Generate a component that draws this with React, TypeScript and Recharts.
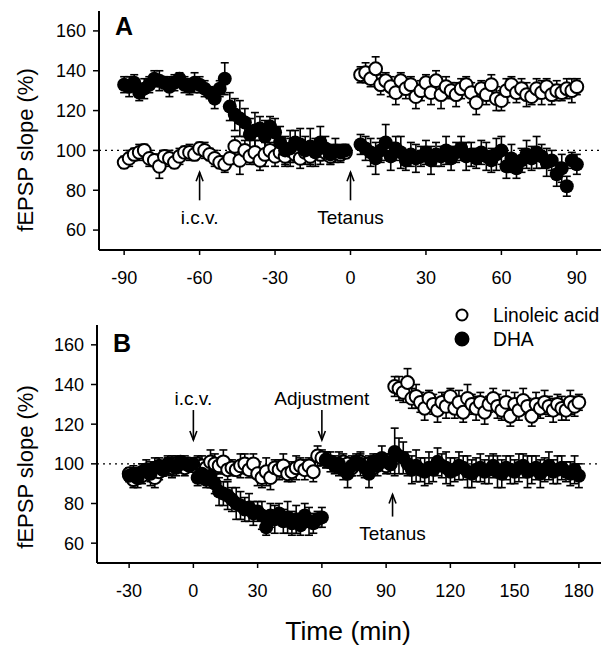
import { ScatterChart, Scatter, XAxis, YAxis, ErrorBar, ReferenceLine, ReferenceDot, Legend } from 'recharts';

const FONT = '"Liberation Sans", Arial, Helvetica, sans-serif';

// ---- panel A: times (min), values (% of baseline), SEM
const timeA = [
  -90, -88, -86, -84, -82, -80, -78, -76, -74, -72, -70, -68, -66, -64, -62, -60, -58, -56, -54, -52, -50, -48, -46,
  -44, -42, -40, -38, -36, -34, -32, -30, -28, -26, -24, -22, -20, -18, -16, -14, -12, -10, -8, -6, -4, -2,
  4, 6, 8, 10, 12, 14, 16, 18, 20, 22, 24, 26, 28, 30, 32, 34, 36, 38, 40, 42, 44, 46, 48, 50, 52, 54, 56, 58, 60,
  62, 64, 66, 68, 70, 72, 74, 76, 78, 80, 82, 84, 86, 88, 90,
];
const linoleicA = [
  94, 96, 98, 99, 100, 96, 95, 92, 97, 96, 94, 97, 99, 99, 98, 101, 100, 98, 96, 94, 93, 96, 102, 95, 100, 97, 99, 95,
  98, 100, 97, 99, 97, 100, 98, 96, 99, 97, 100, 98, 99, 97, 99, 98, 99,
  138, 139, 136, 141, 133, 135, 132, 129, 135, 131, 133, 127, 130, 134, 129, 135, 128, 132, 130, 128, 131, 133, 129,
  124, 131, 128, 133, 126, 125, 130, 133, 129, 131, 128, 127, 131, 129, 132, 128, 130, 129, 131, 130, 132,
];
const linoleicAErr = [
  3, 4, 3, 4, 3, 4, 3, 6, 3, 4, 3, 4, 3, 4, 3, 3, 4, 3, 4, 3, 4, 3, 5, 7, 5, 4, 6, 5, 6, 4, 5, 4, 5, 6, 4, 5, 4, 5, 4,
  5, 4, 4, 3, 4, 3,
  4, 5, 4, 6, 5, 4, 5, 6, 4, 5, 4, 6, 5, 4, 6, 5, 7, 5, 4, 6, 5, 4, 5, 6, 4, 5, 5, 6, 5, 6, 4, 5, 5, 6, 4, 5, 6, 4, 5,
  5, 4, 5, 6, 4,
];
const dhaA = [
  133, 132, 134, 129, 131, 133, 136, 135, 134, 132, 134, 136, 133, 132, 134, 133, 131, 129, 126, 131, 136, 122, 118,
  116, 114, 108, 110, 111, 107, 112, 109, 104, 100, 101, 104, 103, 100, 102, 99, 104, 101, 98, 100, 99, 100,
  103, 101, 99, 96, 100, 104, 97, 101, 99, 95, 98, 96, 97, 99, 95, 98, 97, 100, 96, 99, 101, 97, 98, 96, 99, 97, 95,
  98, 100, 92, 96, 91, 95, 98, 96, 99, 97, 94, 95, 88, 91, 82, 95, 93,
];
const dhaAErr = [
  4, 5, 4, 4, 5, 4, 4, 5, 3, 5, 4, 3, 4, 4, 5, 4, 4, 3, 5, 4, 8, 7, 8, 9, 7, 8, 9, 6, 8, 5, 7, 8, 7, 9, 6, 8, 7, 9, 7,
  8, 6, 5, 6, 4, 3,
  5, 6, 7, 8, 6, 9, 7, 6, 8, 5, 6, 7, 5, 6, 7, 6, 5, 7, 6, 5, 6, 7, 6, 5, 6, 7, 6, 8, 7, 6, 7, 5, 6, 7, 6, 8, 6, 7, 5,
  6, 7, 5, 4, 5,
];

// ---- panel B
const timeB = [
  -30, -28, -26, -24, -22, -20, -18, -16, -14, -12, -10, -8, -6, -4, -2, 0, 2, 4, 6, 8, 10, 12, 14, 16, 18, 20, 22,
  24, 26, 28, 30, 32, 34, 36, 38, 40, 42, 44, 46, 48, 50, 52, 54, 56, 58, 60,
  62, 64, 66, 68, 70, 72, 74, 76, 78, 80, 82, 84, 86, 88, 90, 92,
  94, 96, 98, 100, 102, 104, 106, 108, 110, 112, 114, 116, 118, 120, 122, 124, 126, 128, 130, 132, 134, 136, 138,
  140, 142, 144, 146, 148, 150, 152, 154, 156, 158, 160, 162, 164, 166, 168, 170, 172, 174, 176, 178, 180,
];
const linoleicB = [
  95, 92, 93, 94, 97, 95, 93, 96, 97, 99, 98, 100, 99, 98, 100, 99, 100, 99, 98, 101, 100, 99, 101, 97, 98, 97, 99,
  100, 97, 100, 95, 93, 96, 93, 98, 97, 99, 95, 96, 98, 99, 97, 99, 96, 104, 103,
  102, 101, 100, 99, 101, 100, 98, 100, 101, 99, 100, 98, 101, 100, 99, 100,
  139, 138, 136, 141, 133, 134, 131, 128, 133, 130, 127, 131, 129, 134, 128, 131, 126, 133, 130, 128, 131, 126, 130,
  133, 129, 127, 131, 124, 130, 127, 132, 129, 124, 130, 128, 131, 129, 127, 130, 128, 127, 131, 129, 131,
];
const linoleicBErr = [
  3, 4, 5, 4, 3, 6, 5, 4, 3, 4, 5, 4, 3, 4, 3, 3, 4, 5, 4, 6, 5, 4, 6, 5, 4, 3, 6, 5, 4, 5, 6, 5, 7, 6, 4, 5, 6, 4, 5,
  6, 4, 5, 4, 5, 5, 4,
  4, 3, 4, 3, 4, 3, 4, 3, 4, 3, 4, 3, 4, 3, 4, 3,
  5, 6, 5, 7, 5, 6, 5, 6, 4, 5, 6, 5, 6, 4, 5, 6, 5, 7, 5, 6, 5, 6, 4, 5, 6, 5, 6, 5, 6, 5, 6, 4, 5, 6, 5, 6, 5, 6, 5,
  6, 5, 6, 5, 4,
];
const dhaB = [
  94, 95, 93, 96, 97, 95, 98, 99, 97, 100, 99, 98, 101, 100, 99, 100, 93, 95, 92, 94, 90, 86, 85, 84, 82, 80, 79, 77,
  78, 75, 76, 74, 68, 74, 72, 75, 71, 73, 70, 72, 69, 74, 71, 70, 72, 73,
  102, 101, 99, 100, 97, 95, 99, 101, 100, 98, 95, 101, 99, 103, 101, 100,
  106, 104, 103, 100, 97, 99, 97, 96, 98, 97, 101, 99, 98, 96, 97, 99, 98, 96, 95, 97, 98, 96, 97, 99, 96, 95, 98, 97,
  96, 98, 99, 96, 97, 98, 95, 97, 99, 96, 97, 98, 96, 95, 97, 94,
];
const dhaBErr = [
  3, 4, 3, 4, 5, 4, 5, 4, 3, 4, 5, 4, 3, 4, 3, 3, 4, 5, 4, 6, 5, 7, 6, 7, 6, 8, 7, 6, 7, 6, 5, 7, 4, 6, 7, 5, 6, 8, 6,
  7, 5, 6, 7, 5, 4, 5,
  4, 5, 4, 6, 5, 7, 5, 4, 6, 5, 7, 4, 5, 6, 4, 5,
  12, 9, 8, 6, 7, 8, 6, 7, 8, 6, 7, 6, 8, 7, 6, 7, 6, 8, 7, 6, 7, 6, 7, 6, 8, 7, 6, 7, 6, 7, 6, 8, 7, 6, 7, 6, 7, 6, 7,
  6, 5, 6, 7, 6,
];

const ticksY = [60, 80, 100, 120, 140, 160];
const ticksXA = [-90, -60, -30, 0, 30, 60, 90];
const ticksXB = [-30, 0, 30, 60, 90, 120, 150, 180];

const notesA = [
  { label: 'i.c.v.', t: -60, v: 89 },
  { label: 'Tetanus', t: 0, v: 89 },
];
const notesBDown = [
  { label: 'i.c.v.', t: 0, v: 112 },
  { label: 'Adjustment', t: 60, v: 112 },
];
const notesBUp = [{ label: 'Tetanus', t: 93, v: 84.5 }];

const rows = (t: number[], v: number[], e: number[]) => t.map((x, i) => ({ t: x, v: v[i], e: e[i] }));

const openDot = (p: any) => <circle cx={p.cx} cy={p.cy} r={6.4} fill="#fff" stroke="#000" strokeWidth={2} />;
const fillDot = (p: any) => <circle cx={p.cx} cy={p.cy} r={7} fill="#000" />;

// arrow + caption anchored on the arrow tip
const arrow = (label: string, up: boolean, len: number, gap: number) => (p: any) => {
  const { cx, cy } = p;
  const s = up ? 1 : -1;
  return (
    <g>
      <line x1={cx} y1={cy} x2={cx} y2={cy + s * len} stroke="#000" strokeWidth={1.6} />
      <polyline
        points={`${cx - 3.5},${cy + s * 9} ${cx},${cy} ${cx + 3.5},${cy + s * 9}`}
        fill="none"
        stroke="#000"
        strokeWidth={1.6}
      />
      <text x={cx} y={cy + s * gap} textAnchor="middle" fontSize={19} fill="#000">
        {label}
      </text>
    </g>
  );
};

const yTitle = (dy: number) => (props: any) => {
  const vb = props.viewBox || { y: 0, height: 0 };
  const cy = vb.y + vb.height / 2 + dy;
  return (
    <text x={25} y={cy} transform={`rotate(-90 25 ${cy})`} textAnchor="middle" dominantBaseline="central" fontSize={22} fill="#000">
      fEPSP slope (%)
    </text>
  );
};

const xTitle = () => (
  <text x={348} y={340} textAnchor="middle" fontSize={26.5} fill="#000">
    Time (min)
  </text>
);

const legendContent = (props: any) => (
  <svg width={160} height={50}>
    {(props.payload || []).map((p: any) => {
      const filled = p.value === 'DHA';
      const y = filled ? 39 : 15;
      return (
        <g key={p.value}>
          <circle cx={12} cy={y} r={filled ? 6.5 : 5.5} fill={filled ? '#000' : '#fff'} stroke="#000" strokeWidth={2} />
          <text x={43} y={y + 6.5} fontSize={19.3} fill="#000">
            {p.value}
          </text>
        </g>
      );
    })}
  </svg>
);

const axisLine = { stroke: '#000', strokeWidth: 2 };
const tickLine = { stroke: '#000', strokeWidth: 1.5 };
const tick = { fill: '#000', fontSize: 18 };

export default function App() {
  const linA = rows(timeA, linoleicA, linoleicAErr);
  const dA = rows(timeA, dhaA, dhaAErr);
  const linB = rows(timeB, linoleicB, linoleicBErr);
  const dB = rows(timeB, dhaB, dhaBErr);

  return (
    <div style={{ position: 'absolute', left: 0, top: 0, width: 601, height: 650, overflow: 'hidden', background: '#fff', fontFamily: FONT }}>
      <div style={{ position: 'absolute', left: 0, top: 0 }}>
        <ScatterChart width={620} height={300} margin={{ top: 11, right: 18, bottom: 0, left: 0 }}>
          <XAxis type="number" dataKey="t" domain={[-100, 100]} ticks={ticksXA} allowDataOverflow height={50}
            tick={tick} tickSize={5} tickMargin={16} axisLine={axisLine} tickLine={tickLine} />
          <YAxis type="number" dataKey="v" domain={[50, 170]} ticks={ticksY} allowDataOverflow width={99}
            tick={tick} tickSize={6} tickMargin={7} axisLine={axisLine} tickLine={tickLine} label={yTitle(19.5)} />
          <ReferenceLine y={100} stroke="#000" strokeWidth={1.3} strokeDasharray="2 4" />
          <Scatter name="Linoleic acid" data={linA} shape={openDot} isAnimationActive={false}>
            <ErrorBar dataKey="e" direction="y" width={4} stroke="#000" strokeWidth={1.6} />
          </Scatter>
          <Scatter name="DHA" data={dA} shape={fillDot} isAnimationActive={false}>
            <ErrorBar dataKey="e" direction="y" width={4} stroke="#000" strokeWidth={1.6} />
          </Scatter>
          {notesA.map((n) => (
            <ReferenceDot key={n.label} x={n.t} y={n.v} shape={arrow(n.label, true, 28, 52)} />
          ))}
        </ScatterChart>
      </div>
      <div style={{ position: 'absolute', left: 0, top: 300 }}>
        <ScatterChart width={620} height={350} margin={{ top: 25, right: 9, bottom: 37, left: 0 }}>
          <XAxis type="number" dataKey="t" domain={[-45, 195]} ticks={ticksXB} allowDataOverflow height={50}
            tick={tick} tickSize={5} tickMargin={16} axisLine={axisLine} tickLine={tickLine} label={xTitle} />
          <YAxis type="number" dataKey="v" domain={[50, 170]} ticks={ticksY} allowDataOverflow width={97}
            tick={tick} tickSize={6} tickMargin={7} axisLine={axisLine} tickLine={tickLine} label={yTitle(23)} />
          <ReferenceLine y={100} stroke="#000" strokeWidth={1.3} strokeDasharray="2 4" />
          <Scatter name="Linoleic acid" data={linB} shape={openDot} isAnimationActive={false}>
            <ErrorBar dataKey="e" direction="y" width={4} stroke="#000" strokeWidth={1.6} />
          </Scatter>
          <Scatter name="DHA" data={dB} shape={fillDot} isAnimationActive={false}>
            <ErrorBar dataKey="e" direction="y" width={4} stroke="#000" strokeWidth={1.6} />
          </Scatter>
          {notesBDown.map((n) => (
            <ReferenceDot key={n.label} x={n.t} y={n.v} shape={arrow(n.label, false, 30, 35)} />
          ))}
          {notesBUp.map((n) => (
            <ReferenceDot key={n.label} x={n.t} y={n.v} shape={arrow(n.label, true, 22, 45)} />
          ))}
          <Legend layout="horizontal" verticalAlign="middle" align="center" content={legendContent}
            wrapperStyle={{ position: 'absolute', left: 450, top: 0, width: 151, height: 50 }} />
        </ScatterChart>
      </div>
      <svg width={601} height={650} style={{ position: 'absolute', left: 0, top: 0, pointerEvents: 'none' }}>
        <text x={115} y={35} fontSize={25} fontWeight="bold" fill="#000">A</text>
        <text x={113} y={352} fontSize={25} fontWeight="bold" fill="#000">B</text>
      </svg>
    </div>
  );
}
